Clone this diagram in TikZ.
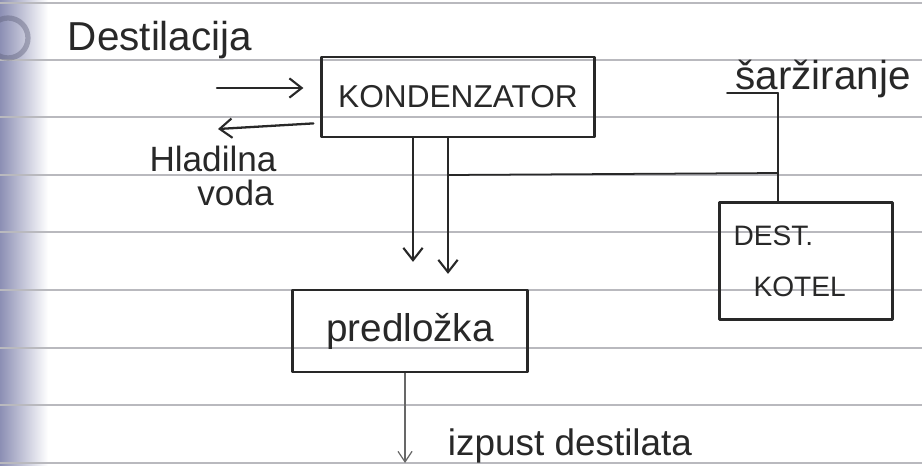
\documentclass[tikz,border=0pt]{standalone}
\usepackage{fontspec}
\setmainfont{Liberation Sans}
\usetikzlibrary{arrows.meta}
\definecolor{ink}{RGB}{40,40,40}
\definecolor{paperline}{RGB}{185,185,190}
\definecolor{shadow}{RGB}{140,143,180}
\tikzset{
  inkline/.style={draw=ink, line width=1.3pt, line cap=round, line join=round},
  arr/.style={inkline, -{Straight Barb[length=7pt,width=11pt,line width=1.2pt]}},
  boxnode/.style={inkline, rectangle, inner sep=0pt, text=ink},
  hand/.style={text=ink, inner sep=0pt},
  rule/.style={draw=paperline, line width=0.7pt}
}
\begin{document}
\begin{tikzpicture}[x=0.02cm, y=-0.02cm]
\useasboundingbox (0,0) rectangle (922,466);
\fill[white] (0,0) rectangle (922,466);
% binding shadow
\shade[left color=shadow, right color=white] (0,0) rectangle (48,466);
% ruled lines
\foreach \yy in {3,60,117,175,232,290,348,405,463}
  \draw[rule] (0,\yy) -- (922,\yy);
% circled number fragment
\draw[draw=shadow!70!black, line width=3pt, opacity=0.45] (8,38) circle (20);

% nodes
\node[boxnode, minimum width=5.46cm, minimum height=1.6cm,
      font=\fontsize{18}{20}\selectfont] (K) at (458,97) {KONDENZATOR};
\node[boxnode, minimum width=3.46cm, minimum height=2.34cm, align=left,
      text width=2.9cm, font=\fontsize{16}{30}\selectfont] (D) at (806,261) {DEST.\\[-1pt]\hspace*{0.4cm}KOTEL};
\node[boxnode, minimum width=4.7cm, minimum height=1.64cm,
      font=\fontsize{22}{24}\selectfont] (P) at (410,331) {predložka};

% text labels
\node[hand, font=\fontsize{23}{26}\selectfont] (dst) at (160,40) {Destilacija};
\node[hand, align=center, font=\fontsize{20}{19}\selectfont] (hl) at (213,176) {Hladilna\\\hspace*{0.9cm}voda};
\node[hand, anchor=base west, font=\fontsize{23}{26}\selectfont] (sar) at (735,90) {šaržiranje};
\node[hand, font=\fontsize{21}{24}\selectfont] (izp) at (570,446) {izpust destilata};

% helper coordinates
\coordinate (din) at (217,88);
\coordinate (hout) at (218,129);
\coordinate (a1) at (413,0);
\coordinate (a2) at (448,0);
\coordinate (j1) at (448,175);
\coordinate (j2) at (778,173);
\coordinate (s0) at (727,93);
\coordinate (s1) at (778,93);
\coordinate (o1) at (405,0);
\coordinate (out) at (405,463);

% connectors
\draw[arr, shorten >=0.34cm] (din) -- (din -| K.west);
\draw[arr, shorten <=0.14cm] ([yshift=-0.52cm]K.west) -- (hout);
\draw[arr, shorten >=0.54cm] (K.south -| a1) -- (P.north -| a1);
\draw[arr, shorten >=0.3cm] (K.south -| a2) -- (P.north -| a2);
\draw[inkline, line width=1pt] (j1) -- (j2);
\draw[inkline, line width=1pt] (s0) -- (s1);
\draw[inkline, line width=1pt] (s1) -- (D.north -| s1);
\draw[draw=ink!70, line width=0.7pt, -{Straight Barb[length=6pt,width=8pt,line width=0.7pt]}] (P.south -| o1) -- (out);
\end{tikzpicture}
\end{document}
